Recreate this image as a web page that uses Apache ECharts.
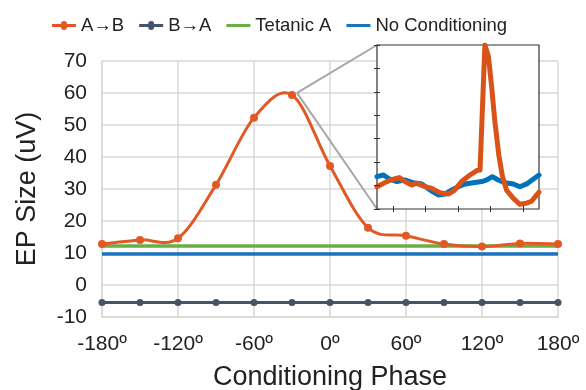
<!DOCTYPE html>
<html>
<head>
<meta charset="utf-8">
<script src="https://cdn.jsdelivr.net/npm/echarts@6/dist/echarts.min.js"></script>
<style>
  html, body { margin: 0; padding: 0; background: #fff; }
  #chart { width: 586px; height: 390px; }
</style>
</head>
<body>
<div id="chart"></div>
<script>
// Conditioning phase (degrees) and evoked-potential sizes (uV)
const phases = [-180, -150, -120, -90, -60, -30, 0, 30, 60, 90, 120, 150, 180];
const aToB = [12.8, 14.1, 14.6, 31.3, 52.3, 59.4, 37.2, 17.9, 15.4, 12.8, 12.0, 13.0, 12.8];
const bToA = [-5.5, -5.5, -5.5, -5.5, -5.5, -5.5, -5.5, -5.5, -5.5, -5.5, -5.5, -5.5, -5.5];
const tetanicA = [12.2, 12.2, 12.2, 12.2, 12.2, 12.2, 12.2, 12.2, 12.2, 12.2, 12.2, 12.2, 12.2];
const noConditioning = [9.7, 9.7, 9.7, 9.7, 9.7, 9.7, 9.7, 9.7, 9.7, 9.7, 9.7, 9.7, 9.7];
const seriesNames = ['A\u2192B', 'B\u2192A', 'Tetanic A', 'No Conditioning'];
const yTicks = { min: -10, max: 70, step: 10 };
const xTicks = { min: -180, max: 180, step: 60 };

// Inset: example EP waveforms (arbitrary time / amplitude units)
const insetTickTimes = [5, 15, 25, 35, 45];
const insetOrangeT = [0, 3, 5, 6.9, 8.6, 10.7, 12.2, 14.3, 16.9, 19.4, 22, 24, 26.1, 28.7, 30.8, 31.8, 32.3, 33.3, 34.4, 35.4, 36.4, 37.6, 38.7, 40.0, 42.1, 44.1, 46.2, 47.7, 49.3, 50];
const insetOrangeV = [0.95, 1.17, 1.27, 1.34, 1.17, 1.02, 1.1, 0.98, 0.88, 0.7, 0.64, 0.81, 1.17, 1.45, 1.64, 1.66, 1.72, 7.0, 6.5, 5.2, 3.7, 2.3, 1.4, 0.8, 0.45, 0.2, 0.25, 0.33, 0.6, 0.72];
const insetBlueT = [0, 2, 4, 6.1, 8.6, 11.2, 13.8, 16.4, 18.9, 21, 23.1, 25.1, 27.2, 29.7, 32.3, 33.9, 35.6, 37.4, 39.5, 42.1, 44.1, 46.2, 48.2, 50];
const insetBlueV = [1.38, 1.45, 1.27, 1.17, 1.24, 1.12, 1.07, 0.81, 0.6, 0.64, 0.81, 0.95, 1.07, 1.12, 1.17, 1.24, 1.38, 1.24, 1.12, 1.07, 0.95, 1.07, 1.27, 1.45];

const FONT = '"Liberation Sans", Arial, sans-serif';
const C = { orange: '#E15A26', slate: '#44546A', green: '#6BAD46', blue: '#1B74C0', grid: '#d9d9d9' };
const pair = (xs, ys) => xs.map((x, i) => [x, ys[i]]);

// legend glyphs: plain line, and line with a centred dot
const ICON_LINE = 'path://M0,6.5L24,6.5L24,9.5L0,9.5Z';
const ICON_DOT = 'path://M0,6.5L9,6.5A3,3,0,0,1,15,6.5L24,6.5L24,9.5L15,9.5A3,3,0,0,1,9,9.5L0,9.5Z';

// Smoothed curve through the A->B points (Catmull-Rom segments as cubic Beziers)
function renderSmoothCurve(params, api) {
  if (params.dataIndexInside !== 0) return null;
  const pts = phases.map((x, i) => api.coord([x, aToB[i]]));
  const n = pts.length;
  const children = [];
  for (let i = 0; i < n - 1; i++) {
    const p0 = pts[Math.max(i - 1, 0)], p1 = pts[i], p2 = pts[i + 1], p3 = pts[Math.min(i + 2, n - 1)];
    children.push({
      type: 'bezierCurve',
      shape: {
        x1: p1[0], y1: p1[1], x2: p2[0], y2: p2[1],
        cpx1: p1[0] + (p2[0] - p0[0]) / 6, cpy1: p1[1] + (p2[1] - p0[1]) / 6,
        cpx2: p2[0] - (p3[0] - p1[0]) / 6, cpy2: p2[1] - (p3[1] - p1[1]) / 6
      },
      style: { stroke: C.orange, lineWidth: 3, fill: null, lineCap: 'round' }
    });
  }
  return { type: 'group', children: children };
}

const chart = echarts.init(document.getElementById('chart'), null, { renderer: 'canvas' });

const insetAxisCommon = {
  gridIndex: 1, type: 'value', z: 12,
  axisLine: { show: false },
  axisLabel: { show: false },
  splitLine: { show: false },
  axisTick: { show: true, inside: true, length: 3, lineStyle: { color: '#333', width: 1 } }
};

chart.setOption({
  animation: false,
  textStyle: { fontFamily: FONT },
  legend: {
    data: [
      { name: seriesNames[0], icon: ICON_DOT, itemStyle: { color: C.orange } },
      { name: seriesNames[1], icon: ICON_DOT, itemStyle: { color: C.slate } },
      { name: seriesNames[2], icon: ICON_LINE, itemStyle: { color: C.green } },
      { name: seriesNames[3], icon: ICON_LINE, itemStyle: { color: C.blue } }
    ],
    top: 11, left: 47,
    itemWidth: 24, itemHeight: 16, itemGap: 15,
    textStyle: { fontSize: 18.5, color: '#222', fontFamily: FONT }
  },
  grid: [
    { left: 102, right: 28, top: 61, bottom: 73, outerBoundsMode: 'none', containLabel: false },
    { left: 377, top: 45, width: 162, height: 164, show: true, backgroundColor: '#fff', borderColor: '#333', borderWidth: 1.2, z: 10, outerBoundsMode: 'none' }
  ],
  xAxis: [
    {
      gridIndex: 0, type: 'value', min: xTicks.min, max: xTicks.max, interval: xTicks.step,
      name: 'Conditioning Phase', nameLocation: 'middle', nameGap: 47,
      nameTextStyle: { fontSize: 27, color: '#222', fontFamily: FONT },
      axisLine: { show: true, onZero: false, lineStyle: { color: C.grid, width: 1.5 } },
      axisTick: { show: false },
      axisLabel: { fontSize: 21, color: '#222', margin: 17, formatter: v => v + '\u00ba' },
      splitLine: { show: true, lineStyle: { color: C.grid, width: 1.5 } }
    },
    Object.assign({}, insetAxisCommon, { position: 'bottom', min: 0, max: 50, axisTick: Object.assign({}, insetAxisCommon.axisTick, { customValues: insetTickTimes }) }),
    Object.assign({}, insetAxisCommon, { position: 'top', min: 0, max: 50, axisTick: Object.assign({}, insetAxisCommon.axisTick, { customValues: insetTickTimes }) })
  ],
  yAxis: [
    {
      gridIndex: 0, type: 'value', min: yTicks.min, max: yTicks.max, interval: yTicks.step,
      name: 'EP Size (uV)', nameLocation: 'middle', nameGap: 61,
      nameTextStyle: { fontSize: 27, color: '#222', fontFamily: FONT },
      axisLine: { show: true, onZero: false, lineStyle: { color: C.grid, width: 1.5 } },
      axisTick: { show: false },
      axisLabel: { fontSize: 21, color: '#222', margin: 15 },
      splitLine: { show: true, lineStyle: { color: C.grid, width: 1.5 } }
    },
    Object.assign({}, insetAxisCommon, { position: 'left', min: 0, max: 7, interval: 1 }),
    Object.assign({}, insetAxisCommon, { position: 'right', min: 0, max: 7, interval: 1 })
  ],
  series: [
    {
      name: seriesNames[2], type: 'line', xAxisIndex: 0, yAxisIndex: 0,
      data: pair(phases, tetanicA), showSymbol: false, symbol: 'none',
      lineStyle: { color: C.green, width: 3.5 }, itemStyle: { color: C.green }, z: 2
    },
    {
      name: seriesNames[3], type: 'line', xAxisIndex: 0, yAxisIndex: 0,
      data: pair(phases, noConditioning), showSymbol: false, symbol: 'none',
      lineStyle: { color: C.blue, width: 3.5 }, itemStyle: { color: C.blue }, z: 2
    },
    {
      name: seriesNames[1], type: 'line', xAxisIndex: 0, yAxisIndex: 0,
      data: pair(phases, bToA), symbol: 'circle', symbolSize: 7,
      lineStyle: { color: C.slate, width: 3 }, itemStyle: { color: C.slate }, z: 3
    },
    {
      type: 'custom', xAxisIndex: 0, yAxisIndex: 0, coordinateSystem: 'cartesian2d',
      data: pair(phases, aToB), renderItem: renderSmoothCurve, z: 4, silent: true
    },
    {
      name: seriesNames[0], type: 'line', xAxisIndex: 0, yAxisIndex: 0,
      data: pair(phases, aToB), symbol: 'circle', symbolSize: 8,
      lineStyle: { color: C.orange, width: 0, opacity: 0 }, itemStyle: { color: C.orange }, z: 5
    },
    {
      type: 'line', xAxisIndex: 1, yAxisIndex: 1, data: pair(insetBlueT, insetBlueV),
      symbol: 'none', lineStyle: { color: '#0072BD', width: 5, join: 'round', cap: 'round' }, z: 11, clip: true
    },
    {
      type: 'line', xAxisIndex: 1, yAxisIndex: 1, data: pair(insetOrangeT, insetOrangeV),
      symbol: 'none', lineStyle: { color: '#D95319', width: 5, join: 'round', cap: 'round' }, z: 11, clip: true
    }
  ]
});

// Callout lines from the peak marker to the inset's left corners
const peakIdx = aToB.indexOf(Math.max.apply(null, aToB));
const peak = chart.convertToPixel({ gridIndex: 0 }, [phases[peakIdx], aToB[peakIdx]]);
const insetTop = chart.convertToPixel({ gridIndex: 1 }, [0, 7]);
const insetBottom = chart.convertToPixel({ gridIndex: 1 }, [0, 0]);
const start = [peak[0] + 5, peak[1] - 2];
chart.setOption({
  graphic: [
    { type: 'line', z: 6, shape: { x1: start[0], y1: start[1], x2: insetTop[0], y2: insetTop[1] }, style: { stroke: '#a6a6a6', lineWidth: 2 } },
    { type: 'line', z: 6, shape: { x1: start[0], y1: start[1], x2: insetBottom[0], y2: insetBottom[1] }, style: { stroke: '#a6a6a6', lineWidth: 2 } }
  ]
});
</script>
</body>
</html>
